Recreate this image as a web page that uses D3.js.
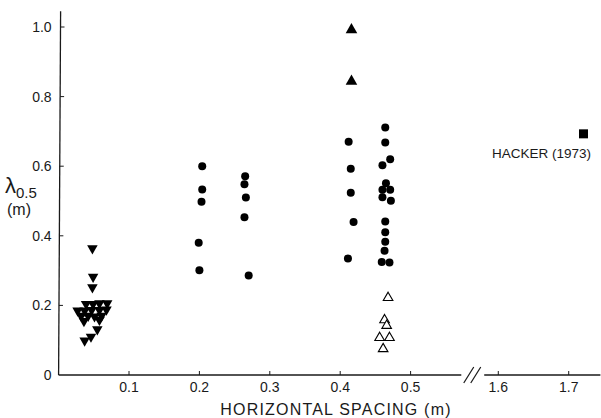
<!DOCTYPE html>
<html>
<head>
<meta charset="utf-8">
<script src="https://cdn.jsdelivr.net/npm/d3@7/dist/d3.min.js"></script>
<style>
  body { margin: 0; background: #fff; }
  text { font-family: "Liberation Sans", Arial, sans-serif; fill: #1a1a1a; }
</style>
</head>
<body>
<script>
// data: [horizontal spacing (m), lambda 0.5 (m)]
var downTriangles = [
  [0.048, 0.364], [0.049, 0.282], [0.048, 0.252],
  [0.039, 0.204], [0.049, 0.204], [0.058, 0.206], [0.069, 0.206],
  [0.027, 0.185], [0.037, 0.185], [0.047, 0.187], [0.058, 0.187], [0.068, 0.188],
  [0.032, 0.170], [0.042, 0.170], [0.051, 0.168], [0.061, 0.170],
  [0.036, 0.155], [0.058, 0.158],
  [0.055, 0.131], [0.046, 0.110], [0.037, 0.099]
];
var dots = [
  [0.204, 0.600], [0.204, 0.533], [0.203, 0.498], [0.199, 0.380], [0.200, 0.301],
  [0.265, 0.571], [0.264, 0.548], [0.266, 0.510], [0.264, 0.453], [0.270, 0.286],
  [0.412, 0.670], [0.415, 0.593], [0.415, 0.524], [0.419, 0.440], [0.411, 0.335],
  [0.464, 0.711], [0.464, 0.668], [0.471, 0.620], [0.460, 0.603], [0.465, 0.551],
  [0.460, 0.532], [0.471, 0.532], [0.460, 0.511], [0.472, 0.501], [0.464, 0.441],
  [0.464, 0.410], [0.464, 0.383], [0.463, 0.357], [0.459, 0.325], [0.470, 0.323]
];
var upTriangles = [[0.416, 0.992], [0.416, 0.844]];
var openTriangles = [
  [0.468, 0.222], [0.463, 0.158], [0.466, 0.142],
  [0.456, 0.107], [0.470, 0.107], [0.461, 0.075]
];
var hacker = [[1.721, 0.693]];
var hackerLabel = "HACKER (1973)";

var xTicks = [0.1, 0.2, 0.3, 0.4, 0.5, 1.6, 1.7];
var yTicks = [0, 0.2, 0.4, 0.6, 0.8, 1.0];

var width = 601, height = 418;
var margin = {top: 12, left: 58.6, bottom: 43};

var svg = d3.select("body").append("svg")
    .attr("width", width)
    .attr("height", height);

// broken x axis: 0 - 0.575 then 1.577 - 1.745
var xScale = d3.scaleLinear()
    .domain([0, 0.575, 1.577, 1.745])
    .range([margin.left, margin.left + 404.8, margin.left + 423.5, margin.left + 541.8]);

var yScale = d3.scaleLinear()
    .domain([0, 1.0])
    .range([375, 27]);

var axisColor = "#1a1a1a";

// y axis
svg.append("line")
    .attr("x1", xScale(0)).attr("x2", xScale(0) + 2)
    .attr("y1", yScale(0)).attr("y2", yScale(1.045))
    .attr("stroke", axisColor).attr("stroke-width", 1.3);

svg.selectAll(".ytick").data(yTicks.filter(function(d) { return d > 0; })).enter()
  .append("line")
    .attr("x1", function(d) { return xScale(0) + d * 1.9; })
    .attr("x2", function(d) { return xScale(0) + d * 1.9 + 4; })
    .attr("y1", function(d) { return yScale(d); })
    .attr("y2", function(d) { return yScale(d); })
    .attr("stroke", axisColor).attr("stroke-width", 1);

svg.selectAll(".ylab").data(yTicks).enter()
  .append("text")
    .attr("x", xScale(0) - 7)
    .attr("y", function(d) { return yScale(d); })
    .attr("dy", "0.35em")
    .attr("text-anchor", "end")
    .style("font-size", "14px")
    .text(function(d) { return d === 0 ? "0" : d.toFixed(1); });

// x axis in two pieces with a break
svg.append("line")
    .attr("x1", xScale(0)).attr("x2", xScale(0.572))
    .attr("y1", yScale(0)).attr("y2", yScale(0))
    .attr("stroke", axisColor).attr("stroke-width", 1.3);
svg.append("line")
    .attr("x1", xScale(1.58)).attr("x2", xScale(1.745))
    .attr("y1", yScale(0)).attr("y2", yScale(0))
    .attr("stroke", axisColor).attr("stroke-width", 1.3);

var bx = (xScale(0.572) + xScale(1.58)) / 2;
[-4, 3].forEach(function(off) {
  svg.append("line")
      .attr("x1", bx + off - 5).attr("y1", yScale(0) + 8)
      .attr("x2", bx + off + 5).attr("y2", yScale(0) - 8)
      .attr("stroke", axisColor).attr("stroke-width", 1.2);
});

svg.selectAll(".xtick").data(xTicks).enter()
  .append("line")
    .attr("x1", function(d) { return xScale(d); })
    .attr("x2", function(d) { return xScale(d); })
    .attr("y1", yScale(0))
    .attr("y2", yScale(0) - 4)
    .attr("stroke", axisColor).attr("stroke-width", 1);

svg.selectAll(".xlab").data(xTicks).enter()
  .append("text")
    .attr("x", function(d) { return xScale(d); })
    .attr("y", yScale(0) + 17)
    .attr("text-anchor", "middle")
    .style("font-size", "14px")
    .text(function(d) { return d.toFixed(1); });

svg.append("text")
    .attr("x", 336)
    .attr("y", 415)
    .attr("text-anchor", "middle")
    .style("font-size", "16px")
    .style("letter-spacing", "1.2px")
    .text("HORIZONTAL SPACING (m)");

// y label: lambda 0.5 (m)
var yl = svg.append("text").attr("x", 5).attr("y", 193).style("font-size", "22px");
yl.append("tspan").text("\u03bb");
yl.append("tspan").attr("dy", 5).style("font-size", "15px").text("0.5");
svg.append("text")
    .attr("x", 7).attr("y", 215)
    .style("font-size", "16px")
    .text("(m)");

// markers
svg.selectAll(".dn").data(downTriangles).enter()
  .append("path")
    .attr("d", d3.symbol().type(d3.symbolTriangle).size(48))
    .attr("transform", function(d) { return "translate(" + xScale(d[0]) + "," + yScale(d[1]) + ") rotate(180)"; })
    .attr("fill", "#000");

svg.selectAll(".dot").data(dots).enter()
  .append("circle")
    .attr("cx", function(d) { return xScale(d[0]); })
    .attr("cy", function(d) { return yScale(d[1]); })
    .attr("r", 4)
    .attr("fill", "#000");

svg.selectAll(".up").data(upTriangles).enter()
  .append("path")
    .attr("d", d3.symbol().type(d3.symbolTriangle).size(58))
    .attr("transform", function(d) { return "translate(" + xScale(d[0]) + "," + yScale(d[1]) + ")"; })
    .attr("fill", "#000");

svg.selectAll(".open").data(openTriangles).enter()
  .append("path")
    .attr("d", d3.symbol().type(d3.symbolTriangle).size(40))
    .attr("transform", function(d) { return "translate(" + xScale(d[0]) + "," + yScale(d[1]) + ")"; })
    .attr("fill", "#fff")
    .attr("stroke", "#000")
    .attr("stroke-width", 1.1);

svg.selectAll(".sq").data(hacker).enter()
  .append("rect")
    .attr("x", function(d) { return xScale(d[0]) - 4.5; })
    .attr("y", function(d) { return yScale(d[1]) - 4.5; })
    .attr("width", 9)
    .attr("height", 9)
    .attr("fill", "#000");

svg.append("text")
    .attr("x", 492)
    .attr("y", 158)
    .style("font-size", "13.5px")
    .text(hackerLabel);
</script>
</body>
</html>
